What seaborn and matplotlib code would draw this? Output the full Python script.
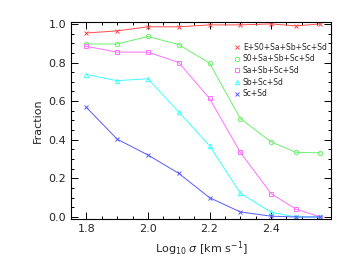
import pandas as pd
import matplotlib
matplotlib.use("Agg")
import matplotlib.pyplot as plt
import seaborn as sns
from matplotlib.ticker import MultipleLocator

# data
log_sigma = [1.8, 1.9, 2.0, 2.1, 2.2, 2.3, 2.4, 2.48, 2.56]
labels = ["E+S0+Sa+Sb+Sc+Sd", "S0+Sa+Sb+Sc+Sd", "Sa+Sb+Sc+Sd", "Sb+Sc+Sd", "Sc+Sd"]
frac_all = [0.953, 0.964, 0.985, 0.985, 0.995, 0.995, 1.0, 0.99, 1.0]
frac_s0 = [0.896, 0.896, 0.935, 0.893, 0.797, 0.51, 0.389, 0.335, 0.332]
frac_sa = [0.884, 0.854, 0.854, 0.80, 0.614, 0.335, 0.121, 0.041, 0.0]
frac_sb = [0.738, 0.706, 0.716, 0.544, 0.369, 0.124, 0.024, 0.0, 0.0]
frac_sc = [0.568, 0.403, 0.321, 0.226, 0.10, 0.026, 0.004, 0.0, 0.0]

colors = ["#ff4a4a", "#6cf06c", "#ff70ff", "#40ffff", "#5a5aff"]
markers = ["x", "o", "s", "^", "x"]

sns.set_style("ticks")
plt.rcParams['font.family'] = ['DejaVu Sans']

fig = plt.figure(figsize=(3.53, 2.65), dpi=100)
ax = fig.add_axes([0.201, 0.174, 0.737, 0.743])

series = [frac_all, frac_s0, frac_sa, frac_sb, frac_sc]
for lab, vals, c, m in zip(labels, series, colors, markers):
    df = pd.DataFrame({"x": log_sigma, "y": vals})
    filled = m == "x"
    sns.lineplot(data=df, x="x", y="y", ax=ax, color=c, lw=0.7,
                 marker=m, markersize=3.2,
                 markerfacecolor="none" if not filled else c,
                 markeredgecolor=c, markeredgewidth=0.7, label=lab)

ax.set_xlim(1.75, 2.595)
ax.set_ylim(-0.01, 1.01)
ax.xaxis.set_major_locator(MultipleLocator(0.2))
ax.xaxis.set_minor_locator(MultipleLocator(0.05))
ax.yaxis.set_major_locator(MultipleLocator(0.2))
ax.yaxis.set_minor_locator(MultipleLocator(0.05))
ax.xaxis.set_major_formatter(matplotlib.ticker.FormatStrFormatter('%.1f'))
ax.yaxis.set_major_formatter(matplotlib.ticker.FormatStrFormatter('%.1f'))
ax.tick_params(which="both", direction="in", top=True, right=True,
               labelsize=8, width=0.7, color="black")
ax.tick_params(which="major", length=5)
ax.tick_params(which="minor", length=2.5)
for s in ax.spines.values():
    s.set_linewidth(0.8)
    s.set_color("black")

ax.set_xlabel(r"Log$_{10}$ $\sigma$ [km s$^{-1}$]", fontsize=8)
ax.set_ylabel("Fraction", fontsize=8)

leg = ax.legend(loc="upper right", bbox_to_anchor=(1.01, 0.93), frameon=False,
                fontsize=5.5, handlelength=0, handletextpad=0.8,
                labelspacing=0.35, markerscale=1.0)

fig.savefig("out.png", dpi=100)
